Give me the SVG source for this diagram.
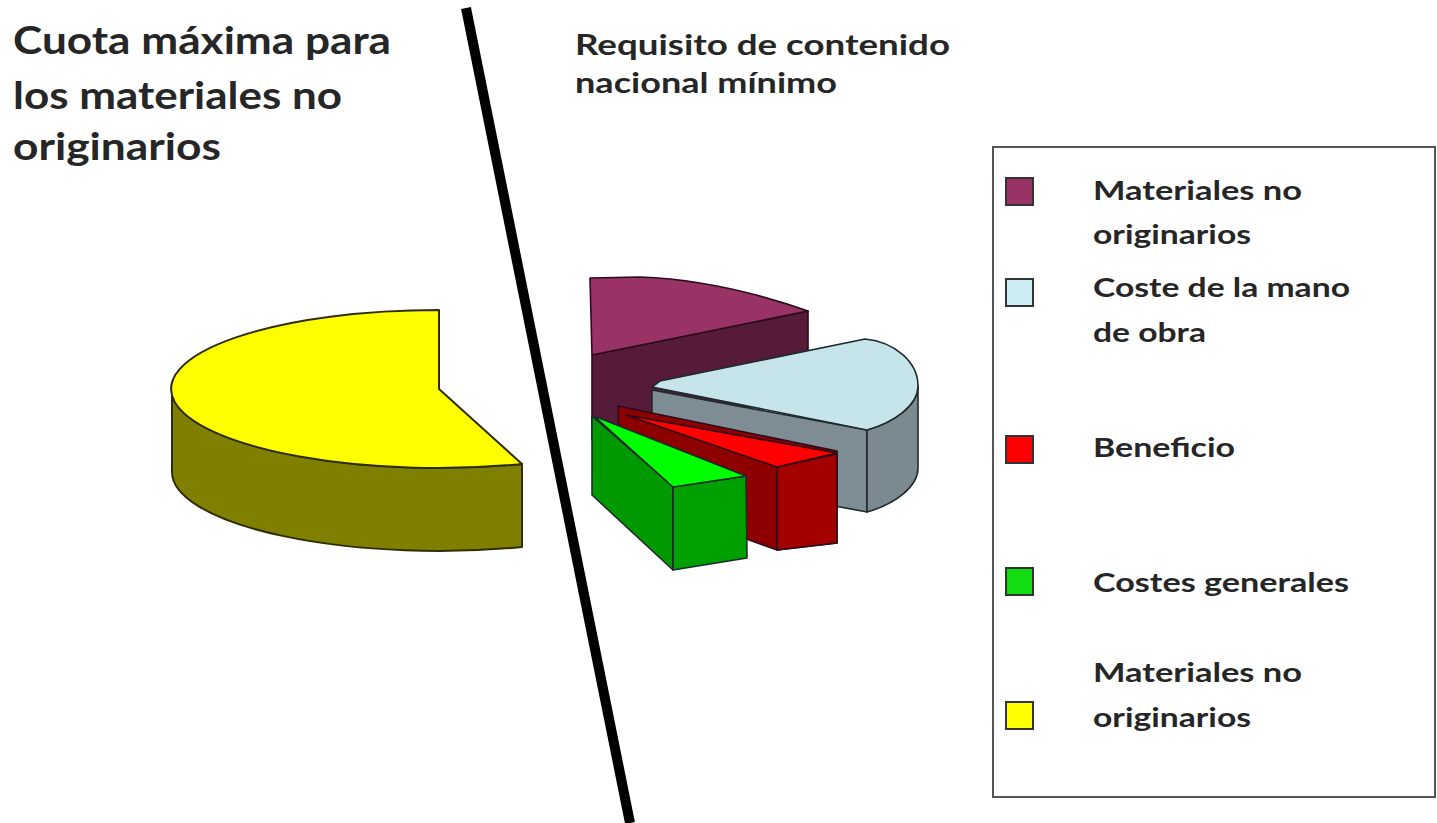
<svg xmlns="http://www.w3.org/2000/svg" width="1437" height="823" viewBox="0 0 1437 823">
<style>
.t{font-family:Lato,"Open Sans","Liberation Sans",sans-serif;font-weight:700;fill:#262626}
.big{font-size:38px}
.mid{font-size:28px}
.leg{font-size:27px}
.y{stroke:#2e2e00;stroke-width:2;stroke-linejoin:round}
.p{stroke:#2a0c1c;stroke-width:1.6;stroke-linejoin:round}
.k{stroke:#1e2a2e;stroke-width:1.6;stroke-linejoin:round}
.sq{stroke:#333;stroke-width:2}
</style>
<rect width="1437" height="823" fill="#ffffff"/>
<g id="title-left">
<text class="t big" x="13" y="54" textLength="378" lengthAdjust="spacingAndGlyphs">Cuota máxima para</text>
<text class="t big" x="13" y="109" textLength="329" lengthAdjust="spacingAndGlyphs">los materiales no</text>
<text class="t big" x="13" y="160" textLength="208" lengthAdjust="spacingAndGlyphs">originarios</text>
</g>
<g id="title-right">
<text class="t mid" x="575" y="55" textLength="375" lengthAdjust="spacingAndGlyphs">Requisito de contenido</text>
<text class="t mid" x="575" y="93" textLength="262" lengthAdjust="spacingAndGlyphs">nacional mínimo</text>
</g>
<g id="pie-left">
<path class="y" fill="#808000" d="M172,389 A267,79 0 0 0 522,464 L522,547 A267,79 0 0 1 172,472 Z"/>
<path class="y" fill="#ffff00" d="M439,389 L439,310 A267,79 0 1 0 522,464 Z"/>
</g>
<g id="divider">
<line x1="466" y1="8" x2="630" y2="823" stroke="#000" stroke-width="10"/>
</g>
<g id="pie-right">
<g id="slice-materiales">
<path class="p" fill="#561b39" d="M592,355 L808,311 L808,395 L592,440 Z"/>
<path class="p" fill="#993366" d="M590,278 L640,277 Q720,280 808,311 L592,355 Z"/>
</g>
<g id="slice-mano-obra">
<path class="k" fill="#7d8d93" d="M652,390 L867,430 L867,512 L652,472 Z"/>
<path class="k" fill="#7a8a90" d="M867,430 C895,422 918,405 918,386 L918,468 C918,487 895,504 867,512 Z"/>
<path class="k" fill="#c6e5eb" d="M652,387 L660,381 L865,339 C895,342 918,362 918,386 C918,405 895,422 867,430 Z"/>
</g>
<g id="slice-beneficio">
<path class="p" fill="#8e0000" d="M618,406 L837,451 L837,543 L777,550 L620,493 Z"/>
<path class="p" fill="#a30000" d="M777,467 L837,454 L837,543 L777,550 Z"/>
<path class="p" fill="#ff0000" d="M626,415 L837,453 L777,467 Z"/>
</g>
<g id="slice-costes">
<path class="k" fill="#009a00" d="M592,416 L673,487 L673,570 L592,495 Z"/>
<path class="k" fill="#00a000" d="M673,487 L746,476 L747,558 L673,570 Z"/>
<path class="k" fill="#00ff00" d="M594,416 L746,476 L673,487 Z"/>
</g>
</g>
<g id="legend">
<rect x="993" y="147" width="442" height="650" fill="none" stroke="#555" stroke-width="2"/>
<g id="leg-1">
<rect class="sq" x="1006" y="178" width="27" height="27" fill="#993366"/>
<text class="t leg" x="1093" y="200" textLength="209" lengthAdjust="spacingAndGlyphs">Materiales no</text>
<text class="t leg" x="1093" y="244" textLength="158" lengthAdjust="spacingAndGlyphs">originarios</text>
</g>
<g id="leg-2">
<rect class="sq" x="1006" y="279" width="27" height="27" fill="#cceef2"/>
<text class="t leg" x="1093" y="297" textLength="257" lengthAdjust="spacingAndGlyphs">Coste de la mano</text>
<text class="t leg" x="1093" y="342" textLength="113" lengthAdjust="spacingAndGlyphs">de obra</text>
</g>
<g id="leg-3">
<rect class="sq" x="1006" y="436" width="27" height="27" fill="#ff0000"/>
<text class="t leg" x="1093" y="457" textLength="142" lengthAdjust="spacingAndGlyphs">Beneficio</text>
</g>
<g id="leg-4">
<rect class="sq" x="1006" y="568" width="27" height="27" fill="#11dd11"/>
<text class="t leg" x="1093" y="592" textLength="256" lengthAdjust="spacingAndGlyphs">Costes generales</text>
</g>
<g id="leg-5">
<rect class="sq" x="1006" y="702" width="27" height="27" fill="#ffff00"/>
<text class="t leg" x="1093" y="682" textLength="209" lengthAdjust="spacingAndGlyphs">Materiales no</text>
<text class="t leg" x="1093" y="727" textLength="158" lengthAdjust="spacingAndGlyphs">originarios</text>
</g>
</g>
</svg>
